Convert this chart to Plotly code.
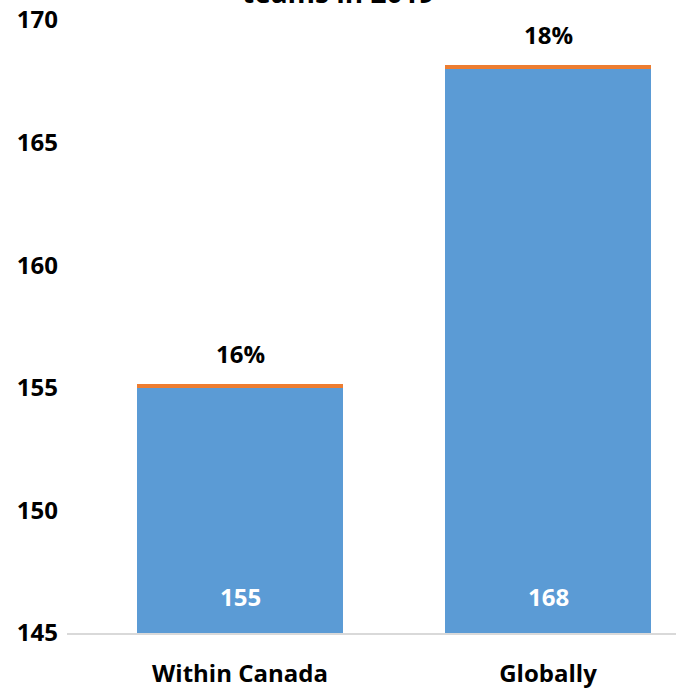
import plotly.graph_objects as go

categories = ["Within Canada", "Globally"]
base_values = [155, 168]
top_values = [0.16, 0.18]
top_labels = ["16%", "18%"]
y_ticks = [145, 150, 155, 160, 165, 170]
title_text = "teams in 2019"

BLUE = "#5B9BD5"
ORANGE = "#ED7D31"
FONT = "Open Sans"
FS = 24

fig = go.Figure()
fig.add_bar(x=categories, y=base_values, marker_color=BLUE, width=0.666,
            marker_line_width=0, name="Teams", hoverinfo="skip")
fig.add_bar(x=categories, y=top_values, marker_color=ORANGE, width=0.666,
            marker_line_width=0, name="Share", hoverinfo="skip")

annotations = []
for c, v in zip(categories, base_values):
    annotations.append(dict(x=c, y=146.5, xref="x", yref="y", text=str(v),
                            showarrow=False, yanchor="middle",
                            font=dict(family=FONT, size=FS, color="white", weight="bold")))
for c, v, t, lab in zip(categories, base_values, top_values, top_labels):
    annotations.append(dict(x=c, y=v + t, xref="x", yref="y", text=lab,
                            showarrow=False, yanchor="middle", yshift=30,
                            font=dict(family=FONT, size=FS, color="black", weight="bold")))
annotations.append(dict(x=0.445, y=1.0115, xref="paper", yref="paper", text=title_text,
                        showarrow=False, yanchor="bottom", xanchor="center",
                        font=dict(family=FONT, size=28, color="black", weight="bold")))

fig.update_layout(
    barmode="stack",
    width=676, height=689,
    margin=dict(l=67, r=0, t=20, b=50),
    paper_bgcolor="white", plot_bgcolor="white",
    showlegend=False,
    annotations=annotations,
    font=dict(family=FONT, size=FS, color="black"),
    xaxis=dict(type="category", range=[-0.5617, 1.4156], showgrid=False,
               showline=True, linecolor="#D9D9D9", linewidth=1.5,
               ticks="", ticklabelstandoff=18,
               tickfont=dict(family=FONT, size=FS, color="black", weight="bold")),
    yaxis=dict(range=[145, 170], tickvals=y_ticks, showgrid=False, zeroline=False,
               showline=False, ticks="", ticklabelstandoff=8,
               tickfont=dict(family=FONT, size=FS, color="black", weight="bold")),
)

fig.write_html("out.html", config={"displayModeBar": False},
               post_script="document.body.style.margin='0';")
